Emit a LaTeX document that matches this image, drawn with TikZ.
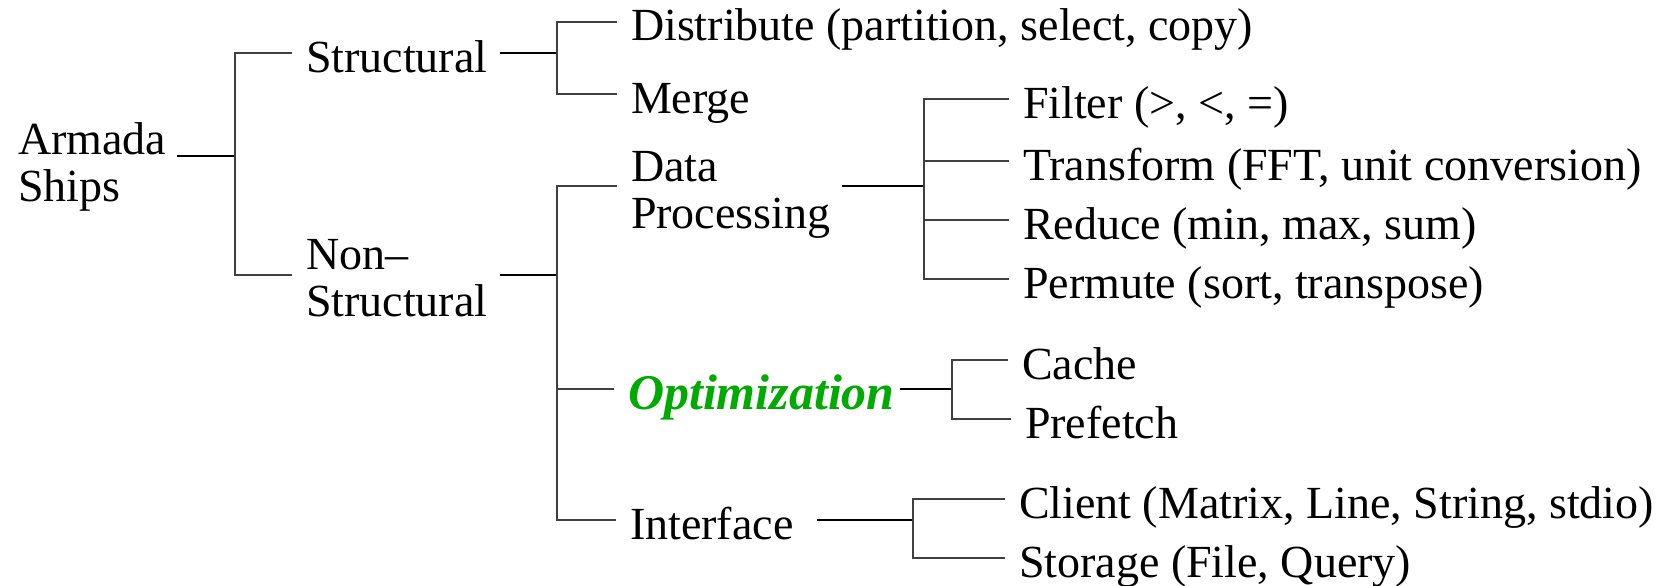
\documentclass[tikz,border=0pt]{standalone}
\usepackage{fontspec}
\setmainfont{Liberation Serif}
\definecolor{optgreen}{RGB}{0,170,0}
\begin{document}
\begin{tikzpicture}[x=1pt,y=-1pt,
  lbl/.style={anchor=base west, inner sep=0pt, outer sep=0pt, font=\fontsize{46}{46}\selectfont, text height=48pt, text depth=10pt},
  mlbl/.style={anchor=base west, inner sep=0pt, outer sep=0pt, align=left, font=\fontsize{46}{46.5}\selectfont},
  br/.style={draw=black!75, line width=1.3pt, line join=miter, shorten >=14pt},
  stub/.style={draw=black, line width=1.8pt},
]
\useasboundingbox (0,0) rectangle (1668,586);

% labels (multi-line nodes: base = baseline of last line)
\node[mlbl] (armada) at (18,201) {Armada\\Ships};
\node[lbl] (structural) at (306,73) {Structural};
\node[mlbl] (nonstruct) at (306,316) {Non–\\Structural};
\node[lbl] (distribute) at (631,41) {Distribute (partition, select, copy)};
\node[lbl] (merge) at (631,113) {Merge};
\node[mlbl] (dataproc) at (631,228) {Data\\Processing};
\node[lbl, font=\fontsize{50}{50}\selectfont\bfseries\itshape, text=optgreen] (optim) at (628,409) {Optimization};
\node[lbl] (interface) at (630,539) {Interface};
\node[lbl] (filter) at (1023,118) {Filter (>, <, =)};
\node[lbl] (transform) at (1023,180) {Transform (FFT, unit conversion)};
\node[lbl] (reduce) at (1023,239) {Reduce (min, max, sum)};
\node[lbl] (permute) at (1023,298) {Permute (sort, transpose)};
\node[lbl] (cache) at (1022,379) {Cache};
\node[lbl] (prefetch) at (1025,438) {Prefetch};
\node[lbl] (client) at (1019,518) {Client (Matrix, Line, String, stdio)};
\node[lbl] (storage) at (1019,577) {Storage (File, Query)};

% junctions
\coordinate (j0) at (235,156);
\coordinate (j1) at (557,53);
\coordinate (j2) at (557,275);
\coordinate (j3) at (924,186);
\coordinate (j4) at (952,389);
\coordinate (j5) at (913,520);

% parent stubs
\draw[stub, shorten <=11pt] (armada.east |- j0) -- (j0);
\draw[stub, shorten <=13pt] (structural.east |- j1) -- (j1);
\draw[stub, shorten <=13pt] (nonstruct.east |- j2) -- (j2);
\draw[stub, shorten <=12pt] (dataproc.east |- j3) -- (j3);
\draw[stub, shorten <=5pt] (optim.east |- j4) -- (j4);
\draw[stub, shorten <=24pt] (interface.east |- j5) -- (j5);

% branches
\draw[br] (j0) |- (j1 -| structural.west);
\draw[br] (j0) |- (j2 -| nonstruct.west);
\draw[br] (j1) |- (distribute.west);
\draw[br] (j1) |- (merge.west);
\draw[br] (j2) |- (j3 -| dataproc.west);
\draw[br] (j2) |- (j4 -| optim.west);
\draw[br] (j2) |- (j5 -| interface.west);
\draw[br] (j3) |- (filter.west);
\draw[br] (j3) |- (transform.west);
\draw[br] (j3) |- (reduce.west);
\draw[br] (j3) |- (permute.west);
\draw[br] (j4) |- (cache.west);
\draw[br] (j4) |- (prefetch.west);
\draw[br] (j5) |- (client.west);
\draw[br] (j5) |- (storage.west);
\end{tikzpicture}
\end{document}
